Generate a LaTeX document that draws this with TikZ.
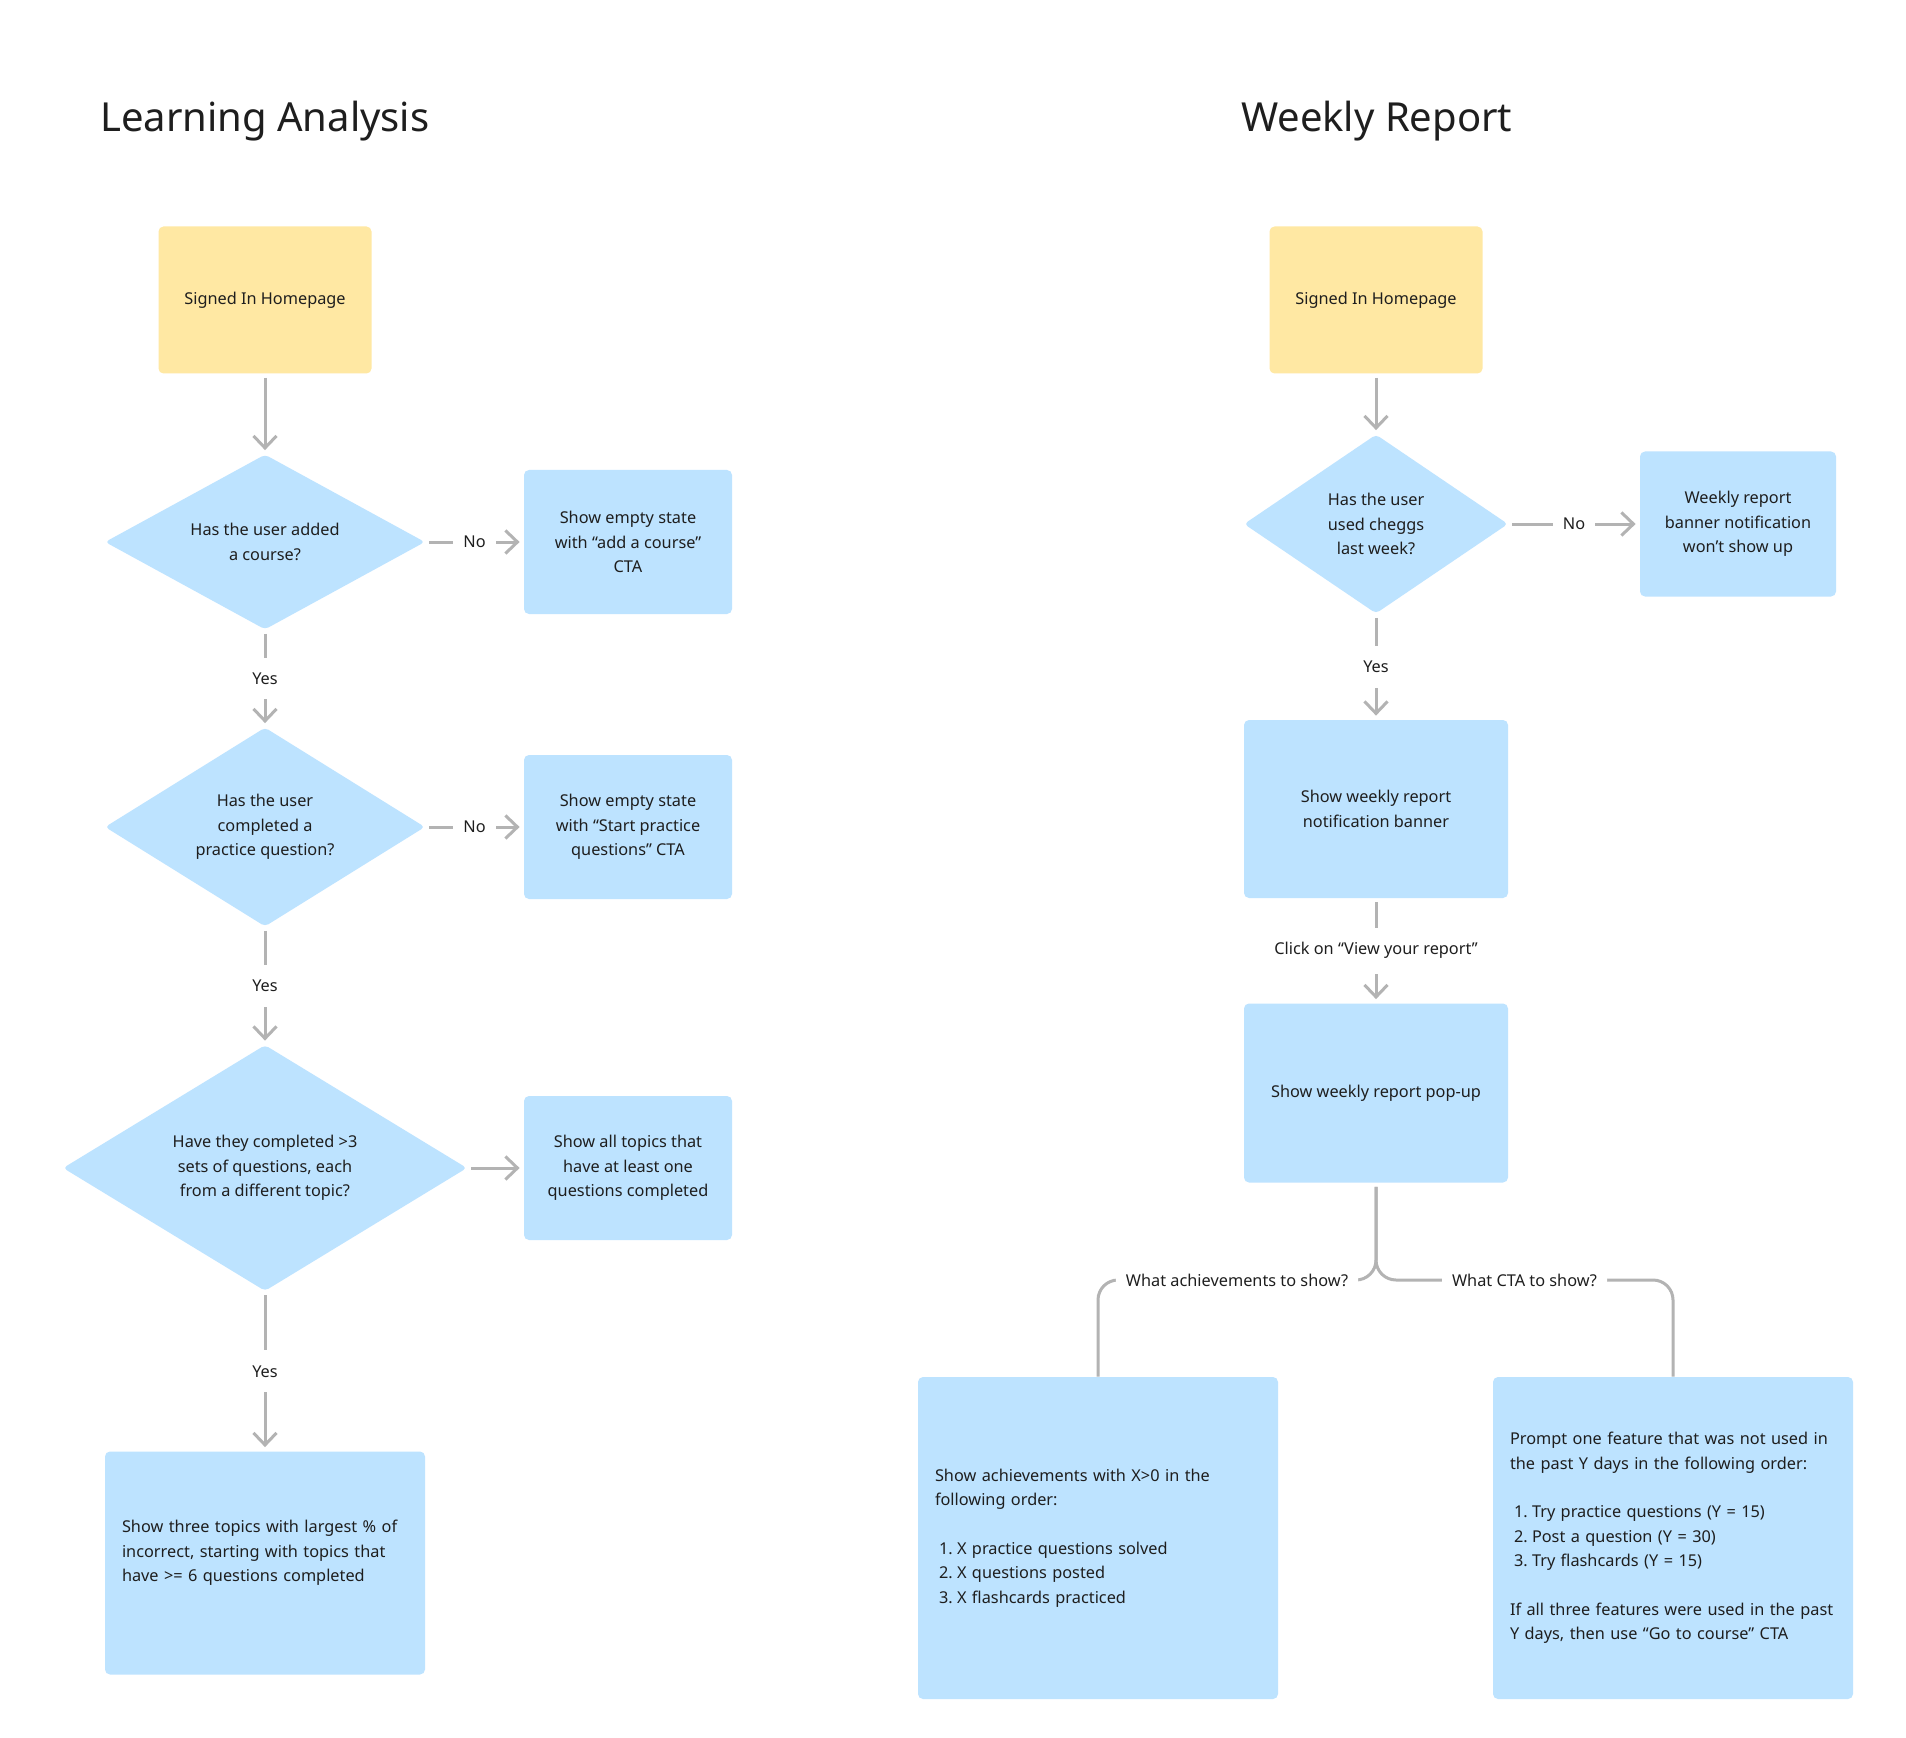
\documentclass[tikz,border=0pt]{standalone}
\usepackage{fontspec}
\setmainfont{Noto Sans}
\usetikzlibrary{shapes.geometric,arrows.meta}

\definecolor{sticky}{HTML}{FFE8A3}
\definecolor{paleblue}{HTML}{BDE3FF}
\definecolor{linegray}{HTML}{B3B3B3}
\definecolor{ink}{HTML}{1E1E1E}

\newcommand{\itm}[2]{\hspace*{2pt}\makebox[9pt][l]{#1.}#2}

\begin{document}
\begin{tikzpicture}[x=0.5pt,y=-0.5pt,
  base/.style={font=\fontsize{8.15}{12.2}\selectfont,text=ink},
  title/.style={font=\fontsize{20}{24}\selectfont,text=ink,anchor=base west},
  home/.style={base,rectangle,rounded corners=2.5pt,fill=sticky,
    minimum width=106.5pt,minimum height=73.5pt},
  box/.style={base,rectangle,rounded corners=2.5pt,fill=paleblue,align=center},
  note/.style={base,rectangle,rounded corners=2.5pt,fill=paleblue,align=left,
    inner xsep=8.5pt},
  decision/.style={base,diamond,rounded corners=2pt,fill=paleblue,
    align=center,inner sep=0pt},
  line/.style={draw=linegray,line width=1.5pt,shorten <=2pt},
  arr/.style={line,shorten >=2pt,-{Straight Barb[length=6pt,width=11.5pt]}},
  lbl/.style={base,fill=white,inner xsep=5pt,inner ysep=7.5pt}]

\path[use as bounding box,fill=white] (0,0) rectangle (1906,1738);

% Learning Analysis
\node[title] (titleL) at (93,132) {Learning Analysis};
\node[home] (home1) at (265,300) {Signed In Homepage};
\node[decision,aspect=1.83,minimum width=160pt,minimum height=87.5pt] (q1) at (265,542)
  {Has the user added\\a course?};
\node[box,minimum width=104pt,minimum height=72pt] (e1) at (628,542)
  {Show empty state\\with “add a course”\\CTA};
\node[decision,aspect=1.6,minimum width=160pt,minimum height=99.5pt] (q2) at (265,827)
  {Has the user\\completed a\\practice question?};
\node[box,minimum width=104pt,minimum height=72pt] (e2) at (628,827)
  {Show empty state\\with “Start practice\\questions” CTA};
\node[decision,aspect=1.64,minimum width=202pt,minimum height=123pt] (q3) at (265,1168)
  {Have they completed >3\\sets of questions, each\\from a different topic?};
\node[box,minimum width=104pt,minimum height=72pt] (e3) at (628,1168)
  {Show all topics that\\have at least one\\questions completed};
\node[note,text width=143pt,minimum height=111.5pt] (res) at (265,1563)
  {Show three topics with largest \% of\\incorrect, starting with topics that\\have >= 6 questions completed\\\mbox{}};

\draw[arr] (home1) -- (q1);
\draw[arr] (q1) -- node[lbl] {No} (e1);
\draw[arr] (q1) -- node[lbl] {Yes} (q2);
\draw[arr] (q2) -- node[lbl] {No} (e2);
\draw[arr] (q2) -- node[lbl] {Yes} (q3);
\draw[arr] (q3) -- (e3);
\draw[arr] (q3) -- node[lbl] {Yes} (res);

% Weekly Report
\node[title] (titleR) at (1234,132) {Weekly Report};
\node[home] (home2) at (1376,300) {Signed In Homepage};
\node[decision,aspect=1.47,minimum width=132pt,minimum height=89.5pt] (w1) at (1376,524)
  {Has the user\\used cheggs\\last week?};
\node[box,minimum width=98pt,minimum height=72.5pt] (skip) at (1738,524)
  {Weekly report\\banner notification\\won’t show up};
\node[box,minimum width=132pt,minimum height=89pt] (banner) at (1376,809)
  {Show weekly report\\notification banner};
\node[box,minimum width=132pt,minimum height=89.5pt] (popup) at (1376,1093)
  {Show weekly report pop-up};
\node[note,text width=163pt,minimum height=161pt] (achv) at (1098,1538)
  {Show achievements with X>0 in the\\following order:\\[12.2pt]
   \itm{1}{X practice questions solved}\\
   \itm{2}{X questions posted}\\
   \itm{3}{X flashcards practiced}};
\node[note,text width=163pt,minimum height=161pt] (cta) at (1673,1538)
  {Prompt one feature that was not used in\\the past Y days in the following order:\\[12.2pt]
   \itm{1}{Try practice questions (Y = 15)}\\
   \itm{2}{Post a question (Y = 30)}\\
   \itm{3}{Try flashcards (Y = 15)}\\[12.2pt]
   If all three features were used in the past\\Y days, then use “Go to course” CTA};
\coordinate (fork) at (1376,1280);

\draw[arr] (home2) -- (w1);
\draw[arr] (w1) -- node[lbl] {No} (skip);
\draw[arr] (w1) -- node[lbl] {Yes} (banner);
\draw[arr] (banner) -- node[lbl] {Click on “View your report”} (popup);
\draw[line,rounded corners=10pt] (popup.south) -- (fork)
  -| node[lbl,pos=0.25] {What achievements to show?} (achv.north);
\draw[line,rounded corners=10pt] (popup.south) -- (fork)
  -| node[lbl,pos=0.25] {What CTA to show?} (cta.north);
\end{tikzpicture}
\end{document}
